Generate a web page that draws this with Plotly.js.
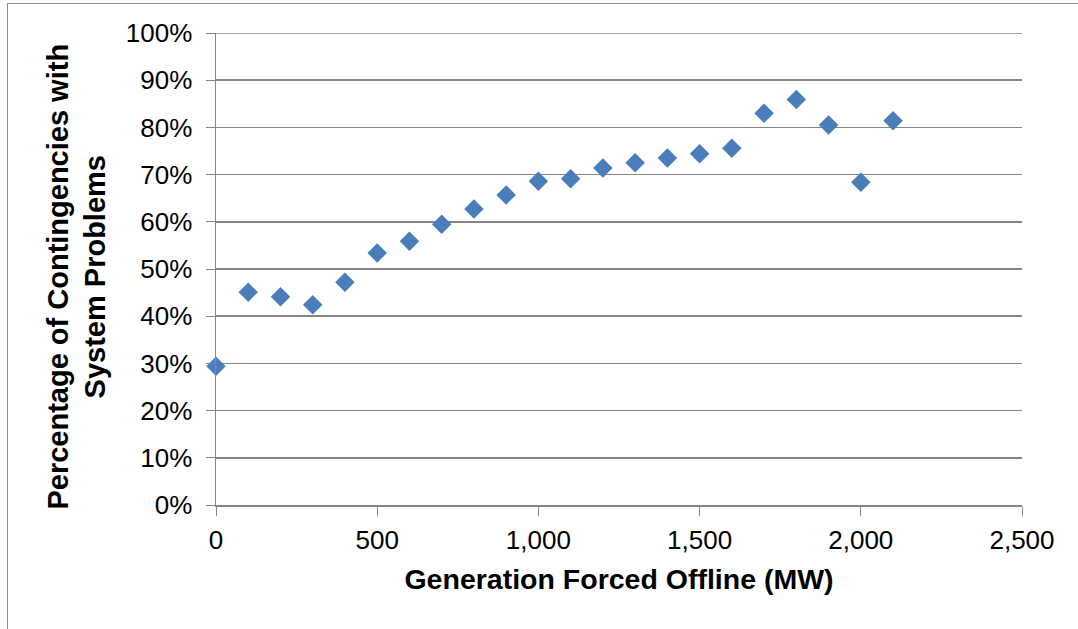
<!DOCTYPE html>
<html>
<head>
<meta charset="utf-8">
<script src="https://cdn.plot.ly/plotly-3.0.1.min.js"></script>
<style>
  html, body { margin: 0; padding: 0; background: #ffffff; }
  #wrap { position: relative; width: 1078px; height: 629px; overflow: hidden; }
  #chart { width: 1078px; height: 629px; }
  #frame { position: absolute; left: 7px; top: 3px; width: 1200px; height: 800px;
           border: 1px solid #8c8c8c; pointer-events: none; }
</style>
</head>
<body>
<div id="wrap">
  <div id="chart"></div>
  <div id="frame"></div>
</div>
<script>
// Generation forced offline (MW)
const generationMW = [0, 100, 200, 300, 400, 500, 600, 700, 800, 900, 1000,
                      1100, 1200, 1300, 1400, 1500, 1600, 1700, 1800, 1900, 2000, 2100];
// Share of contingencies with system problems (fraction)
const problemShare = [0.294, 0.451, 0.441, 0.424, 0.472, 0.534, 0.559, 0.595, 0.627, 0.657, 0.686,
                      0.691, 0.714, 0.725, 0.735, 0.744, 0.756, 0.830, 0.859, 0.805, 0.684, 0.814];

const xTicks = [0, 500, 1000, 1500, 2000, 2500];
const xTickLabels = ['0', '500', '1,000', '1,500', '2,000', '2,500'];
const yTicks = [0, 0.1, 0.2, 0.3, 0.4, 0.5, 0.6, 0.7, 0.8, 0.9, 1.0];
const yTickLabels = ['0%', '10%', '20%', '30%', '40%', '50%', '60%', '70%', '80%', '90%', '100%'];

const xTitle = 'Generation Forced Offline (MW)';
const yTitle = 'Percentage of Contingencies with<br>System Problems';

const font = 'Arial, "Liberation Sans", sans-serif';
const gridGray = '#868686';

const trace = {
  type: 'scatter',
  mode: 'markers',
  x: generationMW,
  y: problemShare,
  marker: { symbol: 'diamond', size: 15, color: '#4a7ebb', line: { width: 0 } },
  hoverinfo: 'x+y',
  cliponaxis: false
};

const layout = {
  width: 1078,
  height: 629,
  margin: { l: 216, r: 56, t: 33, b: 124, pad: 0 },
  paper_bgcolor: '#ffffff',
  plot_bgcolor: '#ffffff',
  showlegend: false,
  font: { family: font, size: 26, color: '#000000' },
  xaxis: {
    range: [0, 2500],
    tickvals: xTicks,
    ticktext: xTickLabels,
    ticks: 'outside',
    ticklen: 9,
    tickwidth: 1,
    tickcolor: gridGray,
    ticklabelstandoff: 2,
    showline: true,
    linecolor: gridGray,
    linewidth: 1.5,
    showgrid: false,
    zeroline: false,
    tickfont: { family: font, size: 26, color: '#000000' },
    title: {
      text: xTitle,
      font: { family: font, size: 28.5, color: '#000000', weight: 'bold' },
      standoff: 15
    },
    automargin: false
  },
  yaxis: {
    range: [0, 1.0],
    tickvals: yTicks,
    ticktext: yTickLabels,
    ticks: 'outside',
    ticklen: 9,
    tickwidth: 1,
    tickcolor: gridGray,
    ticklabelstandoff: 8,
    showline: true,
    linecolor: gridGray,
    linewidth: 1.5,
    showgrid: true,
    gridcolor: gridGray,
    gridwidth: 1.5,
    zeroline: false,
    tickfont: { family: font, size: 26, color: '#000000' },
    automargin: false
  },
  shapes: [
    // top gridline at 100%
    { type: 'line', xref: 'paper', yref: 'y', x0: 0, x1: 1, y0: 1.0, y1: 1.0,
      line: { color: gridGray, width: 1.5 } }
  ],
  annotations: [
    { text: yTitle, textangle: -90, xref: 'paper', yref: 'paper',
      x: -0.173, y: 0.483, xanchor: 'center', yanchor: 'middle', showarrow: false,
      font: { family: font, size: 29, color: '#000000', weight: 'bold' } }
  ]
};

Plotly.newPlot('chart', [trace], layout, { displayModeBar: false, staticPlot: true });
</script>
</body>
</html>
